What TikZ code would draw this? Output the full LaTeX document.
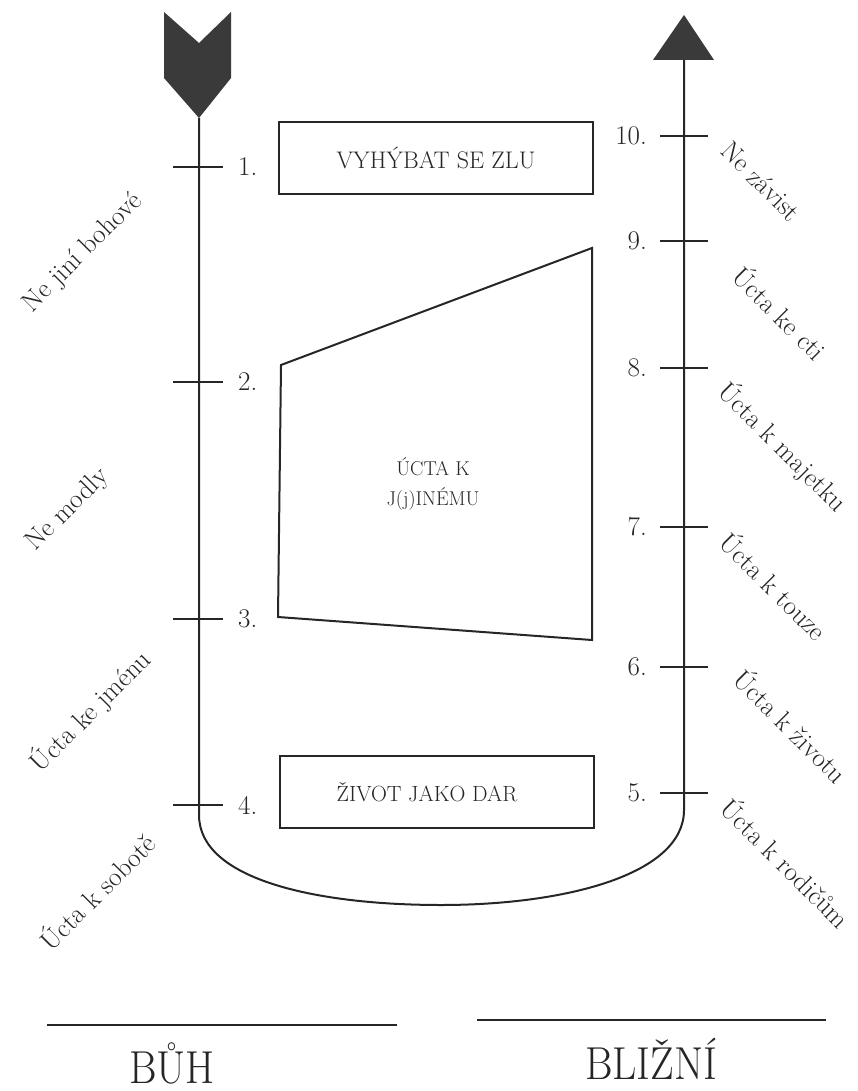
\documentclass[tikz,border=0pt]{standalone}
\usepackage{xcolor}
\definecolor{ink}{RGB}{38,38,38}
\definecolor{headgray}{RGB}{58,58,58}
\usetikzlibrary{calc}
\newcommand{\labelsize}{\fontsize{27}{30}\selectfont}
\newcommand{\boxsize}{\fontsize{22}{30}\selectfont}
\newcommand{\widthbox}{314pt}
\newcommand{\heightbox}{72pt}
\tikzset{
    common/.style={draw=ink, line width=2pt},
    tickmark/.style={common},
    block/.style={common, rectangle, minimum width=\widthbox, minimum height=\heightbox, font=\boxsize, text=ink},
    num/.style={font=\labelsize, inner sep=0pt, text=ink},
    cmdleft/.style={font=\labelsize, rotate=45, text=ink},
    cmdright/.style={font=\labelsize, rotate=-45, text=ink},
    title/.style={font=\fontsize{42}{46}\selectfont, text=ink, yscale=1.1}
}

\begin{document}
\begin{tikzpicture}[x=1pt, y=-1pt]
    \useasboundingbox (0,0) rectangle (858,1091);

    \coordinate (Ltop) at (199,118);
    \coordinate (Lbot) at (199,815);
    \coordinate (Rtop) at (684,60);
    \coordinate (Rbot) at (684,810);
    \coordinate (Mid) at (441,905);

    % heads of the two lines
    \fill[headgray, shift={(Ltop)}] (-35,-106) -- (0,-75) -- (32,-106) -- (32,-40) -- (0,0) -- (-35,-40) -- cycle;
    \fill[headgray, shift={(Rtop)}] (-31,0) -- (0,-45) -- (30,0) -- cycle;

    \draw[common] (Ltop) -- (Lbot) .. controls (199,880) and (318,905) .. (Mid)
        .. controls (564,905) and (684,875) .. (Rbot) -- (Rtop);

    % ticks on the left line
    \foreach \n/\y in {1/167, 2/382, 3/619, 4/805} {
        \coordinate (t\n) at (199,\y);
        \draw[tickmark] ([xshift=-26pt]t\n) -- ([xshift=24pt]t\n);
        \node[num, anchor=west] (n\n) at ([xshift=39pt]t\n) {\n.};
    }
    % ticks on the right line
    \foreach \n/\y in {10/136, 9/241, 8/368, 7/527, 6/667, 5/793} {
        \coordinate (t\n) at (684,\y);
        \draw[tickmark] ([xshift=-24pt]t\n) -- ([xshift=24pt]t\n);
        \node[num, anchor=east] (n\n) at ([xshift=-37pt]t\n) {\n.};
    }

    \node[block, font=\fontsize{24}{30}\selectfont] (evil) at (436,158) {VYHÝBAT SE ZLU};
    \node[block] (gift) at (437,792) {\hspace*{-20pt}ŽIVOT JAKO DAR};

    \draw[common] (281,365) coordinate (trTL) -- (592,248) coordinate (trTR)
        -- (592,640) coordinate (trBR) -- (278,617) coordinate (trBL) -- cycle;
    \node[font=\fontsize{20}{30}\selectfont, align=center, text=ink] (other) at (433,484) {ÚCTA K\\J(j)INÉMU};

    % commandments
    \foreach \x/\y/\txt [count=\i] in {83/253/Ne jiní bohové, 68/510/Ne modly, 90/711/Úcta ke jménu, 96/891/Úcta k sobotě}
        \node[cmdleft] (cl\i) at (\x,\y) {\txt};
    \foreach \x/\y/\txt [count=\i] in {761/181/Ne závist, 781/312/Úcta ke cti, 783/447/Úcta k majetku,
        775/585/Úcta k touze, 792/725/Úcta k životu, 787/862/Úcta k rodičům}
        \node[cmdright] (cr\i) at (\x,\y) {\txt};

    \draw[common] (47,1025) coordinate (bl1) -- (397,1025) coordinate (bl2);
    \draw[common] (477,1020) coordinate (br1) -- (826,1020) coordinate (br2);
    \node[title] (god) at (172,1063) {BŮH};
    \node[title] (neighbour) at (651,1059) {BLIŽNÍ};
\end{tikzpicture}
\end{document}
